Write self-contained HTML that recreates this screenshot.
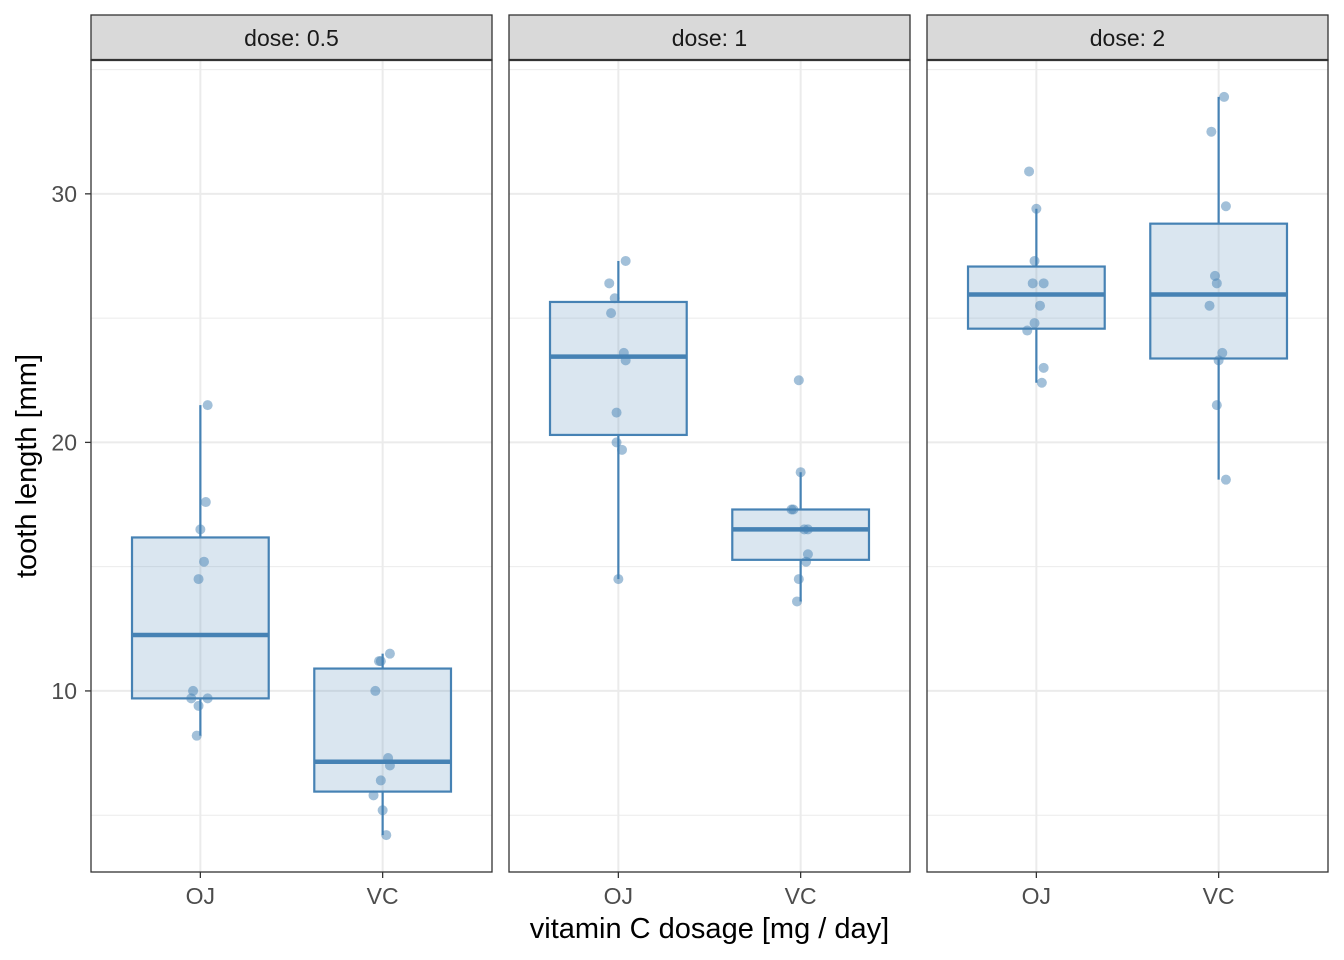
<!DOCTYPE html>
<html><head><meta charset="utf-8"><style>
body{margin:0;background:#fff}
svg{display:block}
text{font-family:"Liberation Sans",Arial,sans-serif}
</style></head><body>
<svg id="chart" width="1344" height="960" xmlns="http://www.w3.org/2000/svg"></svg>
<script>
const doses = ["0.5","1","2"];
const supps = ["OJ","VC"];
const ojData = [
 [15.2,21.5,17.6,9.7,14.5,10,8.2,9.4,16.5,9.7],
 [19.7,23.3,23.6,26.4,20,25.2,25.8,21.2,14.5,27.3],
 [25.5,26.4,22.4,24.5,24.8,30.9,26.4,27.3,29.4,23]
];
const vcData = [
 [4.2,11.5,7.3,5.8,6.4,10,11.2,11.2,5.2,7],
 [16.5,16.5,15.2,17.3,22.5,17.3,13.6,14.5,18.8,15.5],
 [23.6,18.5,33.9,25.5,26.4,32.5,26.7,21.5,23.3,29.5]
];
const yTicks = [10,20,30];
const yMinor = [5,15,25,35];
const jitter = [0.02,0.04,0.03,-0.05,-0.01,-0.04,-0.02,-0.01,0,0.04];

const svg = document.getElementById('chart');
const NS = "http://www.w3.org/2000/svg";
function mk(tag, attrs, parent){
  const e = document.createElementNS(NS, tag);
  for (const k in attrs) e.setAttribute(k, attrs[k]);
  (parent||svg).appendChild(e); return e;
}
const panelX = [91,509,927], panelW = 401, plotTop = 60, plotBottom = 872;
const yMin = 2.715, yMax = 35.385;
function y(v){ return plotBottom - (v - yMin)/(yMax - yMin)*(plotBottom - plotTop); }
function x(p, i){ return panelX[p] + ((i+1) - 0.4)/2.2*panelW; }
function q(arr, p){ const s=[...arr].sort((a,b)=>a-b); const h=(s.length-1)*p; const lo=Math.floor(h); const nx = lo+1 < s.length ? s[lo+1] : s[lo]; return s[lo]+(h-lo)*(nx-s[lo]); }

doses.forEach((d, p) => {
  const g = mk('g', {});
  
  
  yMinor.forEach(v => { if (y(v) > plotTop && y(v) < plotBottom) {
    const l = mk('line', {x1:panelX[p], x2:panelX[p]+panelW, y1:y(v), y2:y(v), stroke:'#ebebeb', 'stroke-width':1}, g);
      }});
  yTicks.forEach(v => {
    const l = mk('line', {x1:panelX[p], x2:panelX[p]+panelW, y1:y(v), y2:y(v), stroke:'#ebebeb', 'stroke-width':2}, g);
      });
  supps.forEach((s,i) => {
    const l = mk('line', {x1:x(p,i), x2:x(p,i), y1:plotTop, y2:plotBottom, stroke:'#ebebeb', 'stroke-width':2}, g);
      });
  [ojData[p], vcData[p]].forEach((arr, i) => {
    const q1=q(arr,0.25), med=q(arr,0.5), q3=q(arr,0.75), iqr=q3-q1;
    const lo=Math.min(...arr.filter(v=>v>=q1-1.5*iqr)), hi=Math.max(...arr.filter(v=>v<=q3+1.5*iqr));
    const cx = x(p,i), hw = 0.375/2.2*panelW;
    const bg = mk('g', {}, g);
    
    
    mk('line',{x1:cx,x2:cx,y1:y(hi),y2:y(q3),stroke:'#4682b4','stroke-width':2.2},bg);
    mk('line',{x1:cx,x2:cx,y1:y(q1),y2:y(lo),stroke:'#4682b4','stroke-width':2.2},bg);
    mk('rect',{x:cx-hw,y:y(q3),width:2*hw,height:y(q1)-y(q3),fill:'rgba(70,130,180,0.2)',stroke:'#4682b4','stroke-width':2.2},bg);
    mk('line',{x1:cx-hw,x2:cx+hw,y1:y(med),y2:y(med),stroke:'#4682b4','stroke-width':4.5},bg);
    arr.forEach((v,k) => {
      const c = mk('circle',{cx:cx + jitter[k]*panelW/2.2, cy:y(v), r:5, fill:'rgba(70,130,180,0.5)'},bg);
       
    });
  });
  mk('rect',{x:panelX[p],y:plotTop,width:panelW,height:plotBottom-plotTop,fill:'none',stroke:'#333','stroke-width':1.3},g);
  const st = mk('rect',{x:panelX[p],y:15,width:panelW,height:45,fill:'#d9d9d9',stroke:'#333','stroke-width':1.3},g);
   
  mk('line',{x1:panelX[p],x2:panelX[p]+panelW,y1:60,y2:60,stroke:'#333','stroke-width':2.2},g);
  const stt = mk('text',{x:panelX[p]+panelW/2,y:46,'text-anchor':'middle','font-size':23,fill:'#1a1a1a'},g);
  stt.textContent = 'dose: ' + d;
   
  supps.forEach((s,i) => {
    mk('line',{x1:x(p,i),x2:x(p,i),y1:plotBottom,y2:plotBottom+6,stroke:'#333','stroke-width':1.3},g);
    const t = mk('text',{x:x(p,i),y:904,'text-anchor':'middle','font-size':23,fill:'#4d4d4d'},g);
    t.textContent = s;
     
  });
});
yTicks.forEach(v => {
  mk('line',{x1:85,x2:91,y1:y(v),y2:y(v),stroke:'#333','stroke-width':1.3});
  const t = mk('text',{x:77,y:y(v)+8,'text-anchor':'end','font-size':23,fill:'#4d4d4d'});
  t.textContent = v;
   
});
const xt = mk('text',{x:709.5,y:938,'text-anchor':'middle','font-size':29,fill:'#000'});
xt.textContent = 'vitamin C dosage [mg / day]';
 
const yt = mk('text',{x:36,y:466,'text-anchor':'middle','font-size':29,fill:'#000',transform:'rotate(-90 36 466)'});
yt.textContent = 'tooth length [mm]';
 
</script>
</body></html>
